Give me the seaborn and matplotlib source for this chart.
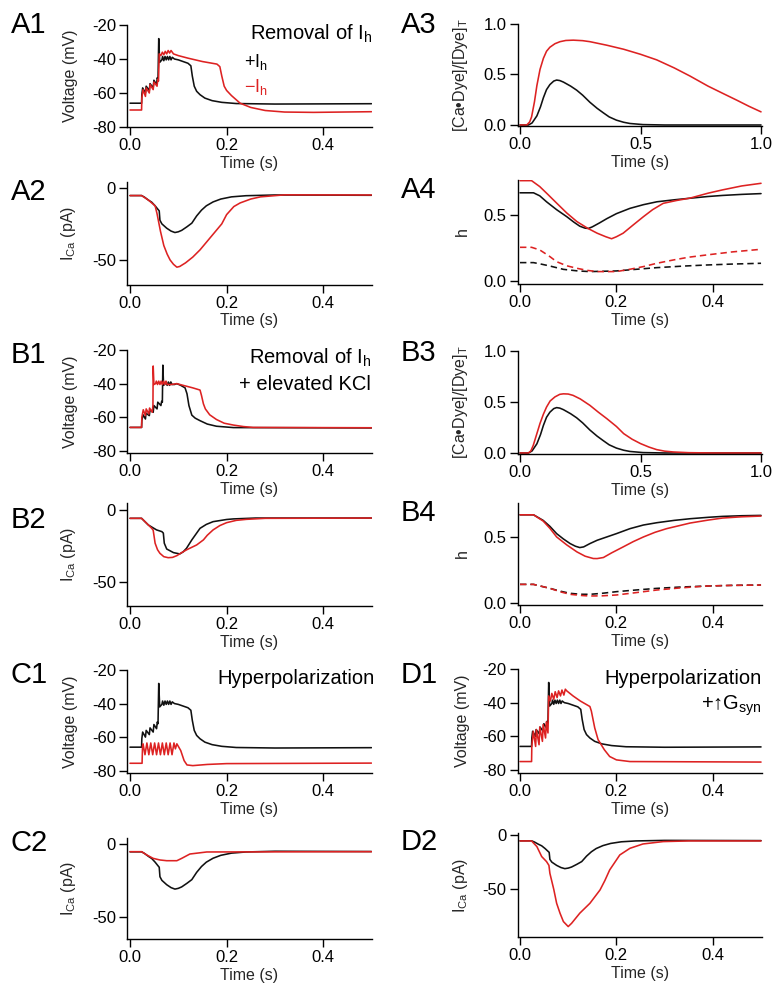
import matplotlib
matplotlib.use("Agg")
import matplotlib.pyplot as plt
import seaborn as sns
import pandas as pd

# ---------------- data (time in s) ----------------
TIME_TICKS_HALF = [0.0, 0.2, 0.4]
TIME_TICKS_FULL = [0.0, 0.5, 1.0]
V_TICKS = [-80, -60, -40, -20]
I_TICKS = [-50, 0]
DYE_TICKS = [0.0, 0.5, 1.0]
H_TICKS = [0.0, 0.5]

# control (+Ih) voltage, shared by A1, C1, D1
CTRL_V = [(0, -66), (0.024, -66), (0.0245, -61), (0.0262, -57), (0.032, -60), (0.0335, -56),
          (0.040, -58.5), (0.0415, -54.5), (0.048, -57), (0.0495, -52.5), (0.055, -55),
          (0.0565, -51), (0.058, -52), (0.0595, -28), (0.0615, -42), (0.066, -40.5),
          (0.0675, -38.5), (0.070, -41), (0.0725, -38.5), (0.075, -40.5), (0.0775, -38.5),
          (0.080, -40.5), (0.0825, -38.5), (0.085, -40.5), (0.0875, -39), (0.092, -40),
          (0.100, -40.5), (0.110, -41.5), (0.120, -42.5), (0.126, -44), (0.129, -50),
          (0.133, -56), (0.138, -59), (0.145, -61), (0.155, -63), (0.170, -64.5),
          (0.190, -65.5), (0.220, -66.2), (0.300, -66.5), (0.500, -66.3)]
A1_RED_V = [(0, -70), (0.024, -70), (0.0245, -63), (0.027, -58), (0.032, -62), (0.0335, -57),
            (0.040, -60), (0.0415, -55), (0.048, -58), (0.0495, -53.5), (0.056, -56),
            (0.0575, -52), (0.059, -53), (0.0605, -37), (0.064, -38), (0.067, -36),
            (0.070, -37.5), (0.073, -35.5), (0.076, -37), (0.079, -35), (0.082, -36.5),
            (0.085, -35), (0.090, -37), (0.100, -38), (0.120, -39.5), (0.150, -41.5),
            (0.180, -43), (0.186, -44.5), (0.190, -50), (0.195, -56), (0.200, -58.5),
            (0.210, -61.5), (0.228, -66), (0.250, -68.5), (0.280, -70.3), (0.320, -71.2),
            (0.380, -71.4), (0.500, -71)]
# control calcium current, shared by A2, C2, D2
CTRL_I = [(0, -5.4), (0.024, -5.4), (0.030, -6.5), (0.038, -8.5), (0.045, -10), (0.052, -12.5),
          (0.058, -15), (0.0605, -16), (0.062, -22.5), (0.066, -25), (0.076, -28), (0.085, -30),
          (0.093, -31), (0.100, -30.5), (0.107, -29.5), (0.118, -27), (0.128, -24.5),
          (0.133, -22), (0.138, -19.5), (0.148, -15.5), (0.158, -12.5), (0.172, -9.8),
          (0.188, -7.8), (0.210, -6.3), (0.240, -5.5), (0.300, -5.0), (0.500, -5.2)]
A2_RED_I = [(0, -5.4), (0.024, -5.4), (0.038, -8.5), (0.052, -12.5), (0.056, -18), (0.063, -30),
            (0.070, -40), (0.077, -46), (0.083, -50), (0.090, -53), (0.097, -55), (0.103, -54.5),
            (0.115, -52), (0.130, -48), (0.145, -43), (0.165, -35), (0.185, -27), (0.190, -25),
            (0.200, -18.6), (0.215, -13), (0.228, -10.5), (0.250, -7.8), (0.270, -6.3),
            (0.320, -4.9), (0.500, -5)]
# control Ca-dye, shared by A3, B3
CTRL_DYE = [(0, 0), (0.035, 0), (0.050, 0.02), (0.070, 0.09), (0.085, 0.18), (0.097, 0.27),
            (0.110, 0.35), (0.124, 0.40), (0.140, 0.435), (0.152, 0.445), (0.165, 0.44),
            (0.180, 0.425), (0.210, 0.385), (0.235, 0.345), (0.260, 0.295), (0.290, 0.225),
            (0.320, 0.165), (0.346, 0.12), (0.370, 0.08), (0.400, 0.048), (0.430, 0.027),
            (0.456, 0.015), (0.510, 0.004), (0.600, 0.0), (1.0, 0.0)]
A3_RED_DYE = [(0, 0), (0.028, 0), (0.040, 0.03), (0.048, 0.08), (0.060, 0.23), (0.070, 0.39),
              (0.083, 0.55), (0.097, 0.66), (0.110, 0.73), (0.124, 0.77), (0.145, 0.805),
              (0.166, 0.825), (0.190, 0.837), (0.221, 0.84), (0.260, 0.835), (0.290, 0.825),
              (0.360, 0.79), (0.430, 0.75), (0.500, 0.70), (0.567, 0.645), (0.640, 0.565),
              (0.705, 0.485), (0.780, 0.385), (0.844, 0.31), (0.900, 0.245), (0.950, 0.185),
              (1.0, 0.13)]
A4_BLK_H = [(0, 0.668), (0.028, 0.668), (0.041, 0.645), (0.055, 0.60), (0.076, 0.54),
            (0.097, 0.487), (0.112, 0.445), (0.124, 0.415), (0.135, 0.40), (0.142, 0.398),
            (0.150, 0.41), (0.165, 0.44), (0.180, 0.472), (0.200, 0.51), (0.228, 0.55),
            (0.256, 0.578), (0.284, 0.60), (0.320, 0.615), (0.353, 0.627), (0.390, 0.64),
            (0.420, 0.648), (0.460, 0.656), (0.500, 0.662)]
A4_RED_H = [(0, 0.76), (0.024, 0.76), (0.041, 0.715), (0.058, 0.655), (0.076, 0.59),
            (0.097, 0.515), (0.118, 0.45), (0.140, 0.40), (0.160, 0.362), (0.178, 0.335),
            (0.190, 0.32), (0.200, 0.335), (0.214, 0.362), (0.235, 0.425), (0.256, 0.487),
            (0.275, 0.54), (0.297, 0.588), (0.325, 0.61), (0.353, 0.628), (0.390, 0.665),
            (0.420, 0.69), (0.460, 0.72), (0.500, 0.74)]
A4_BLK_HD = [(0, 0.139), (0.028, 0.139), (0.041, 0.13), (0.060, 0.115), (0.090, 0.088),
             (0.120, 0.076), (0.145, 0.071), (0.200, 0.076), (0.240, 0.088), (0.284, 0.101),
             (0.340, 0.113), (0.387, 0.121), (0.440, 0.128), (0.500, 0.134)]
A4_RED_HD = [(0, 0.255), (0.024, 0.255), (0.041, 0.235), (0.060, 0.19), (0.076, 0.146),
             (0.097, 0.115), (0.118, 0.096), (0.140, 0.08), (0.160, 0.071), (0.200, 0.071),
             (0.230, 0.09), (0.256, 0.109), (0.285, 0.135), (0.318, 0.159), (0.350, 0.18),
             (0.387, 0.197), (0.440, 0.22), (0.500, 0.24)]
B1_BLK_V = [(0, -66), (0.024, -66), (0.0245, -62), (0.027, -58.5), (0.032, -61), (0.033, -57.5),
            (0.040, -59), (0.0415, -55.5), (0.048, -57), (0.0495, -53), (0.056, -55),
            (0.0575, -51), (0.064, -53), (0.0655, -50.5), (0.067, -51), (0.068, -29),
            (0.0695, -41), (0.073, -40), (0.0745, -39), (0.077, -41), (0.0795, -39),
            (0.082, -41), (0.0845, -39), (0.087, -40.5), (0.092, -40.5), (0.097, -40),
            (0.105, -41), (0.114, -42.5), (0.118, -46), (0.122, -53), (0.128, -58.7),
            (0.135, -60.5), (0.145, -62), (0.160, -64), (0.179, -65.3), (0.214, -66.1),
            (0.500, -66.3)]
B1_RED_V = [(0, -66), (0.024, -66), (0.0245, -60), (0.0275, -55.5), (0.032, -59), (0.0335, -55),
            (0.039, -58), (0.0405, -54.5), (0.046, -57), (0.0475, -53), (0.048, -29.5),
            (0.0495, -40.5), (0.053, -40), (0.0545, -38.5), (0.057, -40.5), (0.0595, -38.5),
            (0.062, -40.5), (0.0645, -38.5), (0.067, -40.5), (0.0695, -38.5), (0.072, -40.5),
            (0.0745, -38.5), (0.077, -40.5), (0.085, -40.5), (0.097, -40), (0.110, -41),
            (0.130, -42.5), (0.145, -43.8), (0.148, -47), (0.152, -52), (0.156, -55),
            (0.165, -58.5), (0.179, -61.3), (0.195, -63.5), (0.214, -64.6), (0.235, -65.5),
            (0.255, -66), (0.500, -66.2)]
B2_BLK_I = [(0, -5.8), (0.024, -5.8), (0.038, -10.4), (0.055, -13.8), (0.066, -15), (0.069, -16),
            (0.071, -23), (0.076, -27), (0.090, -29.5), (0.103, -30.4), (0.110, -29),
            (0.117, -26.5), (0.128, -20.7), (0.145, -12.7), (0.158, -10), (0.172, -8.1),
            (0.200, -6.6), (0.214, -6.2), (0.260, -5.6), (0.500, -5.6)]
B2_RED_I = [(0, -5.8), (0.024, -5.8), (0.038, -10.4), (0.045, -12.7), (0.048, -14), (0.052, -23),
            (0.057, -27.5), (0.062, -30), (0.070, -32.3), (0.079, -33), (0.088, -32.8),
            (0.097, -31.6), (0.107, -29.5), (0.117, -27.6), (0.128, -25.8), (0.138, -24.2),
            (0.152, -20.7), (0.160, -17.5), (0.172, -13.8), (0.186, -10.8), (0.200, -8.8),
            (0.220, -7.2), (0.241, -6.5), (0.280, -5.8), (0.500, -5.6)]
B3_RED_DYE = [(0, 0), (0.035, 0), (0.045, 0.02), (0.055, 0.075), (0.070, 0.19), (0.083, 0.29),
              (0.097, 0.38), (0.110, 0.45), (0.125, 0.51), (0.145, 0.55), (0.165, 0.575),
              (0.180, 0.58), (0.200, 0.578), (0.220, 0.565), (0.250, 0.53), (0.290, 0.467),
              (0.325, 0.40), (0.360, 0.337), (0.400, 0.26), (0.430, 0.19), (0.465, 0.135),
              (0.500, 0.092), (0.535, 0.058), (0.567, 0.033), (0.600, 0.018), (0.636, 0.01),
              (0.700, 0.003), (0.800, 0.0), (1.0, 0.0)]
B4_BLK_H = [(0, 0.667), (0.028, 0.667), (0.048, 0.625), (0.062, 0.58), (0.076, 0.525),
            (0.090, 0.485), (0.104, 0.45), (0.115, 0.43), (0.124, 0.42), (0.132, 0.425),
            (0.145, 0.45), (0.160, 0.475), (0.180, 0.50), (0.200, 0.525), (0.228, 0.5625),
            (0.256, 0.59), (0.284, 0.6075), (0.320, 0.625), (0.353, 0.6375), (0.390, 0.648),
            (0.420, 0.655), (0.460, 0.66), (0.500, 0.6625)]
B4_RED_H = [(0, 0.667), (0.028, 0.667), (0.048, 0.62), (0.062, 0.565), (0.076, 0.50),
            (0.097, 0.44), (0.118, 0.3875), (0.135, 0.355), (0.152, 0.3375), (0.160, 0.337),
            (0.173, 0.345), (0.190, 0.38), (0.214, 0.425), (0.235, 0.465), (0.256, 0.50),
            (0.280, 0.535), (0.304, 0.5625), (0.330, 0.585), (0.353, 0.605), (0.390, 0.627),
            (0.420, 0.6425), (0.460, 0.652), (0.500, 0.6575)]
B4_BLK_HD = [(0, 0.1425), (0.028, 0.1425), (0.062, 0.1125), (0.085, 0.09), (0.104, 0.075),
             (0.125, 0.068), (0.145, 0.0675), (0.170, 0.075), (0.200, 0.0875), (0.240, 0.10),
             (0.284, 0.1125), (0.330, 0.122), (0.387, 0.13), (0.440, 0.135), (0.500, 0.1375)]
B4_RED_HD = [(0, 0.1425), (0.028, 0.1425), (0.062, 0.1125), (0.085, 0.085), (0.104, 0.0675),
             (0.130, 0.058), (0.145, 0.055), (0.170, 0.056), (0.200, 0.0625), (0.240, 0.08),
             (0.284, 0.10), (0.330, 0.115), (0.387, 0.13), (0.440, 0.135), (0.500, 0.1375)]
C1_RED_V = [(0, -75.6), (0.025, -75.6), (0.026, -65), (0.027, -64), (0.031, -70.5), (0.035, -63.5),
            (0.039, -70.5), (0.043, -63.5), (0.047, -70.5), (0.051, -63.5), (0.055, -70.5),
            (0.059, -63.5), (0.063, -70.5), (0.067, -63.5), (0.071, -70.5), (0.075, -63.5),
            (0.079, -70.5), (0.083, -63.5), (0.087, -70.5), (0.091, -63.5), (0.094, -67),
            (0.097, -64), (0.105, -68), (0.112, -74), (0.118, -76.6), (0.130, -77),
            (0.160, -76.3), (0.200, -75.8), (0.500, -75.5)]
C2_RED_I = [(0, -5.3), (0.024, -5.3), (0.035, -7.6), (0.048, -9.9), (0.062, -11), (0.076, -11.5),
            (0.097, -11.5), (0.107, -9.9), (0.124, -6.9), (0.159, -5.5), (0.500, -5.3)]
D1_RED_V = [(0, -75), (0.024, -75), (0.0245, -66), (0.0276, -57), (0.0324, -66), (0.034, -56),
            (0.0395, -65), (0.041, -54.5), (0.0465, -63), (0.048, -53), (0.053, -61),
            (0.0545, -51.5), (0.058, -58), (0.0595, -36), (0.063, -39), (0.066, -34.5),
            (0.070, -38), (0.073, -33.5), (0.077, -37), (0.080, -33), (0.084, -36),
            (0.087, -32.5), (0.091, -35.5), (0.094, -32), (0.097, -33), (0.110, -36),
            (0.125, -39), (0.145, -42.3), (0.148, -45), (0.155, -55), (0.162, -62),
            (0.175, -68), (0.186, -72), (0.200, -74), (0.228, -75), (0.500, -75.3)]
D2_RED_I = [(0, -5.5), (0.024, -5.5), (0.035, -10.7), (0.045, -19.9), (0.055, -24.5), (0.060, -28),
            (0.062, -35.3), (0.070, -50), (0.076, -62.9), (0.083, -72), (0.090, -79.7),
            (0.100, -84.3), (0.107, -81.3), (0.124, -72), (0.145, -62.9), (0.166, -50.6),
            (0.176, -42), (0.186, -32.2), (0.207, -18.4), (0.228, -12.3), (0.255, -8.3),
            (0.297, -6.1), (0.350, -5.5), (0.500, -5.5)]

# ---------------- style ----------------
sns.set_theme(style="ticks")
FONT = ["Liberation Sans", "DejaVu Sans"]
plt.rcParams.update({
    "font.family": FONT,
    "axes.unicode_minus": False,
    "mathtext.fontset": "custom",
    "mathtext.rm": "Liberation Sans",
    "mathtext.it": "Liberation Sans:italic",
    "mathtext.bf": "Liberation Sans:bold",
    "axes.edgecolor": "black",
    "axes.linewidth": 1.0,
    "xtick.color": "black",
    "ytick.color": "black",
})

BLACK = "#111111"
RED = "#dd2222"
W, H = 774, 986
fig = plt.figure(figsize=(W / 100, H / 100), dpi=100)
fig.patch.set_facecolor("white")

LEFT = (127, 372)
RIGHT = (517.5, 762)
TICK_FS = 12
LABEL_FS = 11.5


def make_ax(cols, top, bottom, xlim, ylim, xticks, yticks, ylabel, yfmt):
    l, r = cols
    ax = fig.add_axes([l / W, 1 - bottom / H, (r - l) / W, (bottom - top) / H])
    ax.set_facecolor("none")
    ax.set_xlim(*xlim)
    ax.set_ylim(*ylim)
    ax.set_xticks(xticks)
    ax.set_xticklabels([f"{v:.1f}" for v in xticks])
    ax.set_yticks(yticks)
    ax.set_yticklabels([yfmt(v) for v in yticks])
    for s in ("top", "right"):
        ax.spines[s].set_visible(False)
    ax.tick_params(direction="out", length=6, width=1, labelsize=TICK_FS, pad=2, colors="black")
    ax.set_ylabel(ylabel, fontsize=LABEL_FS)
    ax.yaxis.set_label_coords(-0.2 if l < 300 else -0.194, 0.5)
    ax._hpx = bottom - top
    return ax


def trace(ax, pts, color, dashed=False):
    df = pd.DataFrame(pts, columns=["t", "v"])
    sns.lineplot(data=df, x="t", y="v", ax=ax, color=color, lw=1.15, estimator=None,
                 sort=False)
    if dashed:
        ax.lines[-1].set_dashes((4, 2.5))
    ax.set_xlabel("Time (s)", fontsize=LABEL_FS)
    ax.xaxis.set_label_coords(0.5, -29 / ax._hpx)


def fint(v):
    return f"{int(v)}"


def f1(v):
    return f"{v:.1f}"


XH_L = (-0.0062, 0.501)
XH_R = (-0.0052, 0.502)
XF_R = (-0.0104, 1.004)
VLAB = "Voltage (mV)"
ILAB = r"I$_\mathregular{Ca}$ (pA)"
DLAB = r"[Ca•Dye]/[Dye]$_\mathregular{T}$"

# A row
axA1 = make_ax(LEFT, 25, 127, XH_L, (-80, -20), TIME_TICKS_HALF, V_TICKS, VLAB, fint)
trace(axA1, CTRL_V, BLACK); trace(axA1, A1_RED_V, RED)
axA2 = make_ax(LEFT, 182, 284.5, XH_L, (-67, 4), TIME_TICKS_HALF, I_TICKS, ILAB, fint)
trace(axA2, CTRL_I, BLACK); trace(axA2, A2_RED_I, RED)
axA3 = make_ax(RIGHT, 24, 126, XF_R, (-0.01, 1.0), TIME_TICKS_FULL, DYE_TICKS, DLAB, f1)
trace(axA3, CTRL_DYE, BLACK); trace(axA3, A3_RED_DYE, RED)
axA4 = make_ax(RIGHT, 180, 284, XH_R, (-0.023, 0.765), TIME_TICKS_HALF, H_TICKS, "h", f1)
trace(axA4, A4_BLK_H, BLACK); trace(axA4, A4_RED_H, RED)
trace(axA4, A4_BLK_HD, BLACK, True); trace(axA4, A4_RED_HD, RED, True)
# B row
axB1 = make_ax(LEFT, 350, 453, XH_L, (-81.2, -20), TIME_TICKS_HALF, V_TICKS, VLAB, fint)
trace(axB1, B1_BLK_V, BLACK); trace(axB1, B1_RED_V, RED)
axB2 = make_ax(LEFT, 503, 606, XH_L, (-66.4, 4.8), TIME_TICKS_HALF, I_TICKS, ILAB, fint)
trace(axB2, B2_BLK_I, BLACK); trace(axB2, B2_RED_I, RED)
axB3 = make_ax(RIGHT, 351, 454, XF_R, (-0.01, 1.0), TIME_TICKS_FULL, DYE_TICKS, DLAB, f1)
trace(axB3, CTRL_DYE, BLACK); trace(axB3, B3_RED_DYE, RED)
axB4 = make_ax(RIGHT, 503, 605, XH_R, (-0.013, 0.756), TIME_TICKS_HALF, H_TICKS, "h", f1)
trace(axB4, B4_BLK_H, BLACK); trace(axB4, B4_RED_H, RED)
trace(axB4, B4_BLK_HD, BLACK, True); trace(axB4, B4_RED_HD, RED, True)
# C column
axC1 = make_ax(LEFT, 670, 773, XH_L, (-81.4, -20), TIME_TICKS_HALF, V_TICKS, VLAB, fint)
trace(axC1, CTRL_V, BLACK); trace(axC1, C1_RED_V, RED)
axC2 = make_ax(LEFT, 838, 939, XH_L, (-65.3, 4.1), TIME_TICKS_HALF, I_TICKS, ILAB, fint)
trace(axC2, CTRL_I, BLACK); trace(axC2, C2_RED_I, RED)
# D column
axD1 = make_ax(RIGHT, 669, 773, XH_R, (-81.8, -20), TIME_TICKS_HALF, V_TICKS, VLAB, fint)
trace(axD1, CTRL_V, BLACK); trace(axD1, D1_RED_V, RED)
axD2 = make_ax(RIGHT, 833, 937, XH_R, (-93.9, 1.8), TIME_TICKS_HALF, I_TICKS, ILAB, fint)
trace(axD2, CTRL_I, BLACK); trace(axD2, D2_RED_I, RED)


def ftext(x, y, s, **kw):
    fig.text(x / W, 1 - y / H, s, **kw)


# panel labels
for lab, x, y in [("A1", 11, 25), ("A2", 11, 192), ("B1", 11, 355), ("B2", 11, 520),
                  ("C1", 11, 675), ("C2", 11, 843), ("A3", 401, 25), ("A4", 401, 190),
                  ("B3", 401, 353), ("B4", 401, 513), ("D1", 401, 675), ("D2", 401, 842)]:
    ftext(x, y, lab, fontsize=21, ha="left", va="center", color="black")

# annotations
ann = dict(fontsize=14.5, ha="right", va="center", color="black")
ftext(372, 34, r"Removal of I$_\mathregular{h}$", **ann)
ftext(244, 62, r"+I$_\mathregular{h}$", fontsize=13, ha="left", va="center", color="black")
ftext(244, 87, r"−I$_\mathregular{h}$", fontsize=13, ha="left", va="center", color=RED)
ftext(371, 358, r"Removal of I$_\mathregular{h}$", **ann)
ftext(371, 385, "+ elevated KCl", **ann)
ftext(375, 679, "Hyperpolarization", **ann)
ftext(762, 678, "Hyperpolarization", **ann)
ftext(762, 706, r"+$\mathbf{↑}$G$_\mathregular{syn}$", **ann)

fig.savefig("out.png", dpi=100, facecolor="white")
